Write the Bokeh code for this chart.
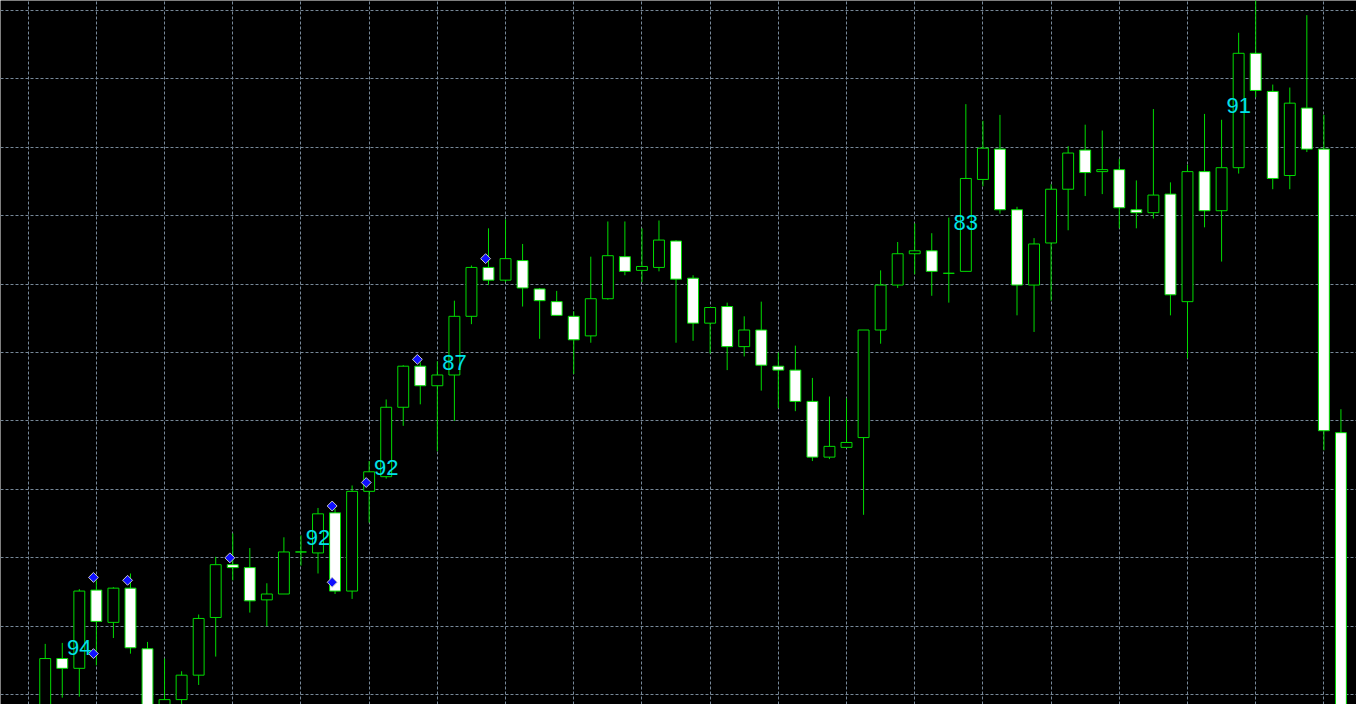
from bokeh.plotting import figure
from bokeh.models import ColumnDataSource, Grid, FixedTicker, Range1d
from bokeh.core.properties import value
from bokeh.embed import file_html
from bokeh.resources import INLINE

# ---- data (price in chart points) ----
opens = [-15, 47, 37, 117, 84, 119, 57, -8, 5, 30,
         89, 143, 140, 107, 113, 156, 155, 196, 116, 218,
         233, 304, 346, 326, 337, 397, 447, 434, 454, 425,
         412, 397, 377, 415, 458, 444, 447, 474, 436, 390,
         407, 366, 383, 346, 342, 310, 253, 263, 273, 383,
         429, 461, 464, 441, 443, 537, 568, 506, 429, 472,
         527, 567, 545, 547, 506, 503, 522, 412, 545, 505,
         549, 666, 627, 541, 610, 568, 278]
highs = [62, 63, 118, 127, 120, 134, 64, 47, 34, 92,
         151, 175, 160, 124, 171, 173, 201, 200, 224, 249,
         312, 347, 350, 351, 413, 449, 487, 496, 471, 426,
         423, 402, 458, 494, 494, 487, 495, 475, 439, 406,
         411, 397, 412, 360, 367, 334, 315, 313, 383, 444,
         473, 492, 482, 498, 614, 597, 603, 509, 477, 532,
         571, 593, 587, 558, 536, 609, 534, 552, 604, 598,
         687, 735, 634, 631, 705, 603, 302]
lows = [-28, 7, 8, 40, 68, 52, -40, -20, -10, 20,
        49, 127, 94, 80, 113, 142, 134, 113, 108, 186,
        231, 285, 307, 259, 290, 389, 429, 432, 407, 374,
        398, 338, 370, 414, 439, 432, 443, 370, 372, 359,
        342, 356, 321, 303, 300, 249, 251, 263, 194, 369,
        426, 440, 418, 411, 443, 530, 502, 398, 381, 413,
        485, 520, 522, 487, 487, 497, 398, 354, 488, 453,
        543, 621, 527, 527, 565, 260, -40]
closes = [47, 37, 116, 85, 119, 58, -25, 5, 30, 88,
          143, 140, 106, 113, 156, 156, 195, 116, 218, 238,
          304, 346, 326, 337, 397, 447, 434, 456, 426, 413,
          398, 373, 415, 459, 443, 448, 475, 435, 390, 406,
          366, 383, 347, 342, 310, 253, 264, 268, 383, 429,
          461, 464, 443, 441, 538, 569, 506, 429, 471, 527,
          564, 544, 547, 508, 503, 521, 419, 545, 505, 549,
          666, 628, 538, 615, 568, 280, -25]

marker_bar = [3, 3, 5, 11, 17, 17, 19, 22, 26]
marker_price = [130, 52, 127, 150, 203, 125, 227, 353, 456]

label_bar = [2, 16, 20, 24, 54, 70]
label_price = [58.3, 171.3, 242.7, 349.5, 493.3, 612.2]
label_text = ["94", "92", "92", "87", "83", "91"]

x_grid_ticks = list(range(-1, 77, 4))
y_grid_ticks = list(range(10, 720, 70))

# ---- build ----
GREEN = "#00dc00"
n = len(opens)
idx = list(range(n))
bull = [c >= o for o, c in zip(opens, closes)]
src = ColumnDataSource(dict(
    x=idx,
    high=highs,
    low=lows,
    top=[max(o, c) for o, c in zip(opens, closes)],
    bottom=[min(o, c) for o, c in zip(opens, closes)],
    fill=["#000000" if b else "#ffffff" for b in bull],
))

p = figure(width=1356, height=704, output_backend="svg", toolbar_location=None,
           x_axis_location=None, y_axis_location=None,
           x_range=Range1d(-2.623, 76.913), y_range=Range1d(0, 720),
           background_fill_color="#000000", border_fill_color="#000000",
           outline_line_color=None, min_border=0)
p.grid.visible = False

p.add_layout(Grid(dimension=0, ticker=FixedTicker(ticks=x_grid_ticks),
                  grid_line_color="#778899", grid_line_dash="3 2", grid_line_width=1))
p.add_layout(Grid(dimension=1, ticker=FixedTicker(ticks=y_grid_ticks),
                  grid_line_color="#778899", grid_line_dash="3 2", grid_line_width=1))

p.segment(x0="x", y0="low", x1="x", y1="high", source=src, line_color=GREEN, line_width=1)
p.vbar(x="x", top="top", bottom="bottom", width=0.64, source=src,
       fill_color="fill", line_color=GREEN, line_width=1)

p.scatter(x=[b - 0.17 for b in marker_bar], y=marker_price, marker="square", angle=0.785,
          size=7, fill_color="#1010ff", line_color="#c8c8c8", line_width=1)

p.text(x=label_bar, y=label_price, text=label_text, text_color="#00e0ea",
       text_font=value("Liberation Sans"), text_font_size="22px",
       text_align="center", text_baseline="middle")

open("out.html", "w").write(file_html(p, INLINE))
